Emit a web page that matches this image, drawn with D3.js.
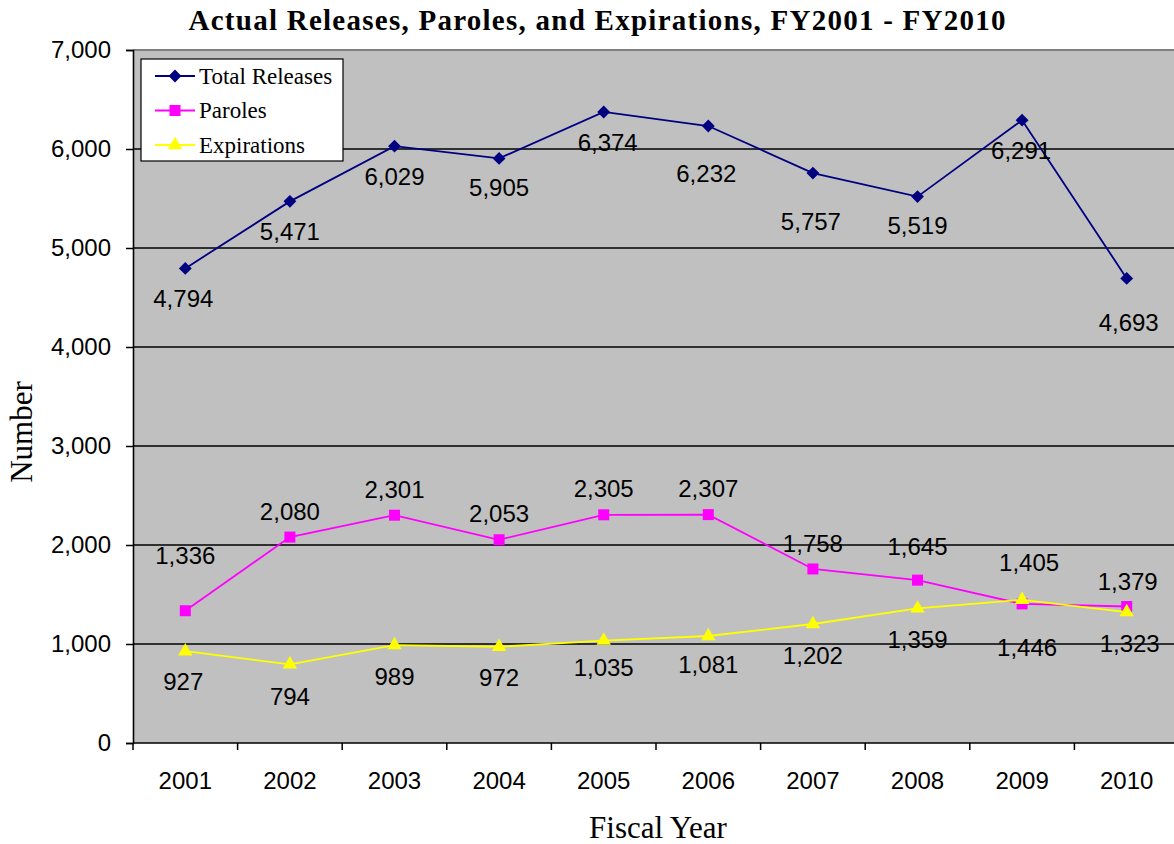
<!DOCTYPE html>
<html>
<head>
<meta charset="utf-8">
<script src="https://cdn.jsdelivr.net/npm/d3@7"></script>
<style>
    body { margin: 0; background: #fff; }
    svg { display: block; }
</style>
</head>
<body>
<svg width="1174" height="844"></svg>
<script>
var years = ["2001", "2002", "2003", "2004", "2005", "2006", "2007", "2008", "2009", "2010"];
var totalReleases = [4794, 5471, 6029, 5905, 6374, 6232, 5757, 5519, 6291, 4693];
var paroles = [1336, 2080, 2301, 2053, 2305, 2307, 1758, 1645, 1405, 1379];
var expirations = [927, 794, 989, 972, 1035, 1081, 1202, 1359, 1446, 1323];
var yTicks = [0, 1000, 2000, 3000, 4000, 5000, 6000, 7000];

// label nudges (dx, dy from the point), as placed in the original
var totalLabelDx = [-2, 0, 0, 0, 4, -2, -2, 0, -1, 2];
var totalLabelDy = [30, 30, 30, 29, 30, 47, 48, 29, 30, 44];
var parolesLabelDx = [0, 0, 0, 0, 0, 0, 0, 0, 7, 1];
var parolesLabelDy = [-55, -26, -26, -26, -26, -26, -26, -34, -42, -25];
var expLabelDx = [-2, 0, 0, 0, 0, 0, 0, 0, 5, 3];
var expLabelDy = [30, 32, 31, 31, 27, 28, 31, 31, 48, 31];

var svg = d3.select("svg");
var plotLeft = 133, plotTop = 50, plotW = 1046, plotH = 693;

var x = d3.scaleBand().domain(years).range([plotLeft, plotLeft + plotW]);
var y = d3.scaleLinear().domain([0, 7000]).range([plotTop + plotH, plotTop]);
var fmt = d3.format(",");

svg.append("rect")
    .attr("x", plotLeft).attr("y", plotTop)
    .attr("width", plotW).attr("height", plotH)
    .attr("fill", "#c0c0c0");

svg.append("line")
    .attr("x1", plotLeft).attr("x2", plotLeft + plotW)
    .attr("y1", plotTop).attr("y2", plotTop)
    .attr("stroke", "#808080").attr("stroke-width", 2);

svg.append("g")
    .selectAll("line")
    .data(yTicks.slice(1, 7))
    .enter()
    .append("line")
    .attr("x1", plotLeft).attr("x2", plotLeft + plotW)
    .attr("y1", function (d) { return y(d); })
    .attr("y2", function (d) { return y(d); })
    .attr("stroke", "#000").attr("stroke-width", 1.4);

var yAxis = svg.append("g")
    .attr("transform", "translate(" + plotLeft + ",0)")
    .call(d3.axisLeft(y).tickValues(yTicks).tickFormat(fmt).tickSize(7).tickPadding(15));

var xAxis = svg.append("g")
    .attr("transform", "translate(0," + (plotTop + plotH) + ")")
    .call(d3.axisBottom(x).tickSize(0).tickPadding(29));

svg.append("g")
    .selectAll("line")
    .data(d3.range(years.length + 1))
    .enter()
    .append("line")
    .attr("x1", function (i) { return plotLeft + i * x.bandwidth(); })
    .attr("x2", function (i) { return plotLeft + i * x.bandwidth(); })
    .attr("y1", plotTop + plotH).attr("y2", plotTop + plotH + 7)
    .attr("stroke", "#000").attr("stroke-width", 1.5);

[yAxis, xAxis].forEach(function (g) {
    g.select(".domain").attr("stroke", "#000").attr("stroke-width", 1.6);
    g.selectAll(".tick line").attr("stroke", "#000").attr("stroke-width", 1.5);
    g.selectAll("text")
        .attr("font-family", "Liberation Sans, Arial, sans-serif")
        .attr("font-size", 24)
        .attr("fill", "#000");
});
xAxis.select(".domain").attr("d", "M" + plotLeft + ",0H" + (plotLeft + plotW));

var series = [
    { name: "Total Releases", values: totalReleases, color: "#000080", shape: d3.symbolDiamond2, size: 105, dx: totalLabelDx, dy: totalLabelDy },
    { name: "Paroles", values: paroles, color: "#ff00ff", shape: d3.symbolSquare, size: 121, dx: parolesLabelDx, dy: parolesLabelDy },
    { name: "Expirations", values: expirations, color: "#ffff00", shape: d3.symbolTriangle, size: 90, dx: expLabelDx, dy: expLabelDy }
];

var line = d3.line()
    .x(function (d, i) { return x(years[i]) + x.bandwidth() / 2; })
    .y(function (d) { return y(d); });

series.forEach(function (s) {
    var g = svg.append("g");
    g.append("path")
        .datum(s.values)
        .attr("d", line)
        .attr("fill", "none")
        .attr("stroke", s.color)
        .attr("stroke-width", 1.8);

    g.selectAll("path.mark")
        .data(s.values)
        .enter()
        .append("path")
        .attr("class", "mark")
        .attr("d", d3.symbol().type(s.shape).size(s.size))
        .attr("transform", function (d, i) {
            return "translate(" + (x(years[i]) + x.bandwidth() / 2) + "," + y(d) + ")";
        })
        .attr("fill", s.color);
});

series.forEach(function (s) {
    svg.append("g")
        .selectAll("text")
        .data(s.values)
        .enter()
        .append("text")
        .attr("x", function (d, i) { return x(years[i]) + x.bandwidth() / 2 + s.dx[i]; })
        .attr("y", function (d, i) { return y(d) + s.dy[i]; })
        .attr("dy", "0.36em")
        .attr("text-anchor", "middle")
        .attr("font-family", "Liberation Sans, Arial, sans-serif")
        .attr("font-size", 24)
        .attr("fill", "#000")
        .text(function (d) { return fmt(d); });
});

// legend
var legend = svg.append("g").attr("transform", "translate(141,59)");
legend.append("rect")
    .attr("width", 202).attr("height", 102)
    .attr("fill", "#fff").attr("stroke", "#000").attr("stroke-width", 1.2);

var item = legend.selectAll("g.item")
    .data(series)
    .enter()
    .append("g")
    .attr("class", "item")
    .attr("transform", function (d, i) { return "translate(0," + (17 + i * 34.5) + ")"; });

item.append("line")
    .attr("x1", 14).attr("x2", 54)
    .attr("stroke", function (d) { return d.color; })
    .attr("stroke-width", 1.8);
item.append("path")
    .attr("d", function (d) { return d3.symbol().type(d.shape).size(d.size)(); })
    .attr("transform", "translate(34,0)")
    .attr("fill", function (d) { return d.color; });
item.append("text")
    .attr("x", 58)
    .attr("dy", "0.33em")
    .attr("font-family", "Liberation Serif, Times New Roman, serif")
    .attr("font-size", 23)
    .text(function (d) { return d.name; });

svg.append("text")
    .attr("x", 597).attr("y", 30)
    .attr("text-anchor", "middle")
    .attr("font-family", "Liberation Serif, Times New Roman, serif")
    .attr("font-weight", "bold")
    .attr("font-size", 29)
    .attr("textLength", 817)
    .attr("lengthAdjust", "spacing")
    .text("Actual Releases, Paroles, and Expirations, FY2001 - FY2010");

svg.append("text")
    .attr("transform", "translate(32,432) rotate(-90)")
    .attr("text-anchor", "middle")
    .attr("font-family", "Liberation Serif, Times New Roman, serif")
    .attr("font-size", 31)
    .text("Number");

svg.append("text")
    .attr("x", 658).attr("y", 838)
    .attr("text-anchor", "middle")
    .attr("font-family", "Liberation Serif, Times New Roman, serif")
    .attr("font-size", 31)
    .text("Fiscal Year");
</script>
</body>
</html>
